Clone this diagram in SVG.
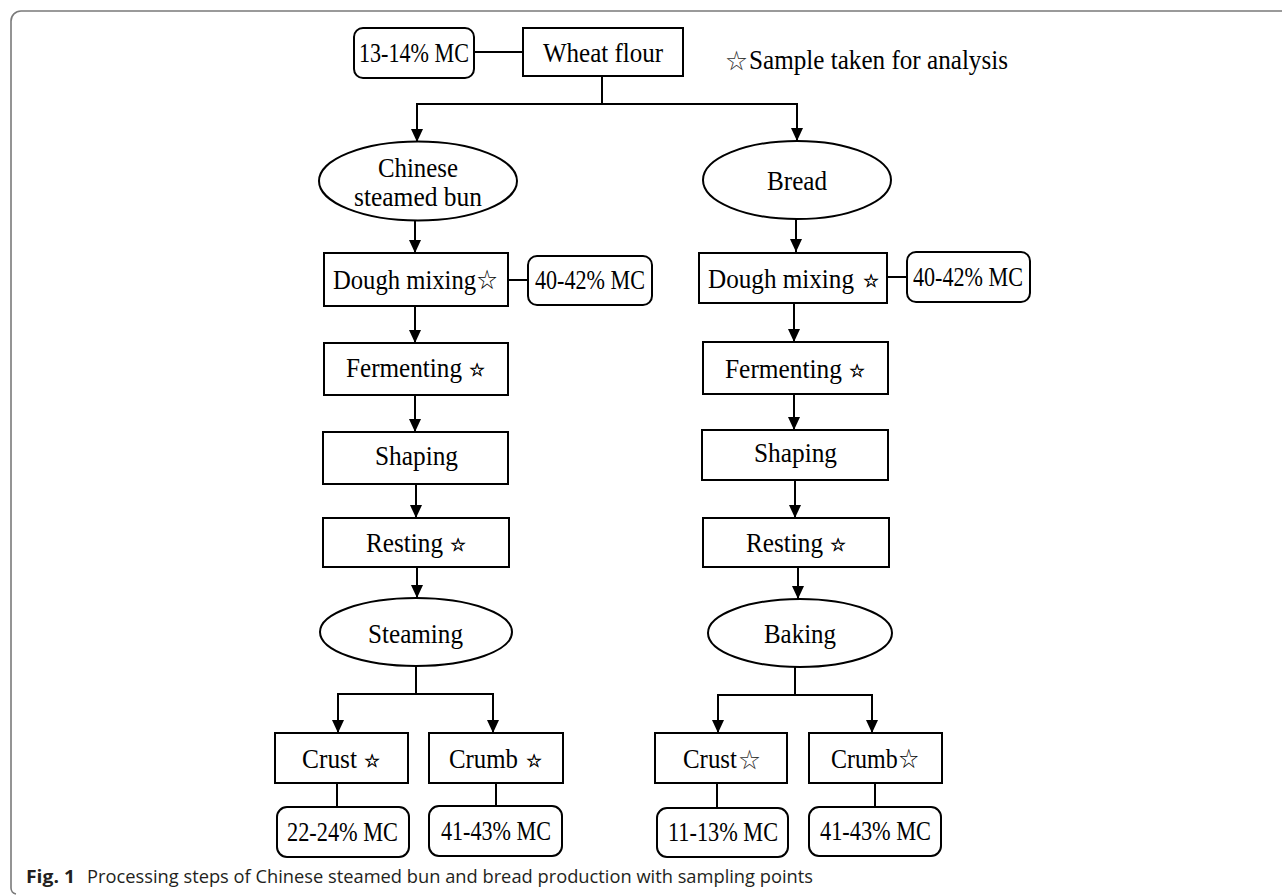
<svg xmlns="http://www.w3.org/2000/svg" width="1282" height="896" viewBox="0 0 1282 896">
<defs>
<marker id="ah" markerUnits="userSpaceOnUse" markerWidth="12" markerHeight="13" refX="6" refY="13" orient="0" viewBox="0 0 12 13">
<path d="M0,0 L12,0 L6,13 Z" fill="#000"/>
</marker>
<style>
.box{fill:#fff;stroke:#000;stroke-width:2}
.t{font-family:"Liberation Serif","Times New Roman",serif;font-size:27px;fill:#000;text-anchor:start}
.s{font-family:"DejaVu Sans",sans-serif;font-size:18px;fill:#000;stroke:#000;stroke-width:0.5}
.g{font-family:"Noto Sans CJK SC","DejaVu Sans",sans-serif;font-size:21px;fill:#333}
.c{fill:none;stroke:#000;stroke-width:2}
.a{fill:none;stroke:#000;stroke-width:2;marker-end:url(#ah)}
.cap{font-family:"Open Sans","Noto Sans",sans-serif;font-size:18px;fill:#231f20}
</style>
</defs>
<rect width="1282" height="896" fill="#fff"/>
<path d="M1282,11 H21 A10,10 0 0 0 11,21 V888 A6,6 0 0 0 16,894" fill="none" stroke="#7a7a7a" stroke-width="1.6"/>

<g id="connectors">
<path class="c" d="M474,52 H523"/>
<path class="a" d="M602,76 V104 H417 V142"/>
<path class="a" d="M602,104 H797 V141"/>
<path class="a" d="M415,220 V253"/>
<path class="c" d="M508,280 H528"/>
<path class="a" d="M415,306 V343"/>
<path class="a" d="M415,395 V432"/>
<path class="a" d="M416,484 V518"/>
<path class="a" d="M417,567 V598"/>
<path class="a" d="M416,667 V694 H338 V733"/>
<path class="a" d="M416,694 H493 V733"/>
<path class="c" d="M337,783 V807"/>
<path class="c" d="M496,783 V806"/>
<path class="a" d="M796,219 V252"/>
<path class="c" d="M887,277 H907"/>
<path class="a" d="M794,303 V342"/>
<path class="a" d="M794,394 V430"/>
<path class="a" d="M795,480 V518"/>
<path class="a" d="M798,567 V599"/>
<path class="a" d="M795,667 V695 H718 V733"/>
<path class="a" d="M795,695 H872 V733"/>
<path class="c" d="M717,783 V808"/>
<path class="c" d="M875,783 V807"/>
</g>

<g id="mc-flour"><rect class="box" x="354" y="28" width="120" height="50" rx="9"/><text class="t" x="359" y="62" textLength="110" lengthAdjust="spacingAndGlyphs">13-14% MC</text></g>
<g id="wheat-flour"><rect class="box" x="523" y="28" width="160" height="48"/><text class="t" x="543" y="62" textLength="120" lengthAdjust="spacingAndGlyphs">Wheat flour</text></g>
<g id="legend"><text class="g" x="726" y="68" font-size="20">☆</text><text class="t" x="749" y="69" textLength="259" lengthAdjust="spacingAndGlyphs">Sample taken for analysis</text></g>

<g id="csb"><ellipse class="box" cx="418" cy="181" rx="99" ry="39.5"/><text class="t" x="378" y="177" textLength="80" lengthAdjust="spacingAndGlyphs">Chinese</text><text class="t" x="354" y="206" textLength="128" lengthAdjust="spacingAndGlyphs">steamed bun</text></g>
<g id="bread"><ellipse class="box" cx="797" cy="180" rx="94" ry="39"/><text class="t" x="767" y="190" textLength="60" lengthAdjust="spacingAndGlyphs">Bread</text></g>

<g id="l-dough"><rect class="box" x="324" y="253" width="184" height="53"/><text class="t" x="333" y="289" font-size="25" textLength="165" lengthAdjust="spacingAndGlyphs">Dough mixing☆</text></g>
<g id="l-mc1"><rect class="box" x="528" y="256" width="124" height="49" rx="9"/><text class="t" x="535" y="289" textLength="110" lengthAdjust="spacingAndGlyphs">40-42% MC</text></g>
<g id="l-ferm"><rect class="box" x="324" y="343" width="184" height="52"/><text class="t" x="346" y="377" textLength="116" lengthAdjust="spacingAndGlyphs">Fermenting</text><text class="s" x="469" y="376">☆</text></g>
<g id="l-shape"><rect class="box" x="323" y="432" width="185" height="52"/><text class="t" x="375" y="465" textLength="83" lengthAdjust="spacingAndGlyphs">Shaping</text></g>
<g id="l-rest"><rect class="box" x="323" y="518" width="186" height="49"/><text class="t" x="366" y="552" textLength="77" lengthAdjust="spacingAndGlyphs">Resting</text><text class="s" x="450" y="551">☆</text></g>
<g id="steaming"><ellipse class="box" cx="416" cy="632" rx="96" ry="34"/><text class="t" x="368" y="643" textLength="95" lengthAdjust="spacingAndGlyphs">Steaming</text></g>
<g id="l-crust"><rect class="box" x="275" y="733" width="133" height="50"/><text class="t" x="302" y="768" textLength="55" lengthAdjust="spacingAndGlyphs">Crust</text><text class="s" x="364" y="767">☆</text></g>
<g id="l-crumb"><rect class="box" x="429" y="733" width="134" height="50"/><text class="t" x="449" y="768" textLength="69" lengthAdjust="spacingAndGlyphs">Crumb</text><text class="s" x="526" y="767">☆</text></g>
<g id="l-mc2"><rect class="box" x="277" y="807" width="132" height="50" rx="10"/><text class="t" x="287" y="841" textLength="111" lengthAdjust="spacingAndGlyphs">22-24% MC</text></g>
<g id="l-mc3"><rect class="box" x="429" y="806" width="133" height="50" rx="10"/><text class="t" x="441" y="840" textLength="110" lengthAdjust="spacingAndGlyphs">41-43% MC</text></g>

<g id="r-dough"><rect class="box" x="699" y="253" width="188" height="50"/><text class="t" x="708" y="288" textLength="146" lengthAdjust="spacingAndGlyphs">Dough mixing</text><text class="s" x="863" y="287">☆</text></g>
<g id="r-mc1"><rect class="box" x="907" y="252" width="123" height="50" rx="9"/><text class="t" x="913" y="286" textLength="110" lengthAdjust="spacingAndGlyphs">40-42% MC</text></g>
<g id="r-ferm"><rect class="box" x="703" y="342" width="185" height="52"/><text class="t" x="725" y="378" textLength="117" lengthAdjust="spacingAndGlyphs">Fermenting</text><text class="s" x="849" y="377">☆</text></g>
<g id="r-shape"><rect class="box" x="702" y="430" width="186" height="50"/><text class="t" x="754" y="462" textLength="83" lengthAdjust="spacingAndGlyphs">Shaping</text></g>
<g id="r-rest"><rect class="box" x="703" y="518" width="186" height="49"/><text class="t" x="746" y="552" textLength="77" lengthAdjust="spacingAndGlyphs">Resting</text><text class="s" x="830" y="551">☆</text></g>
<g id="baking"><ellipse class="box" cx="800" cy="633" rx="92" ry="34"/><text class="t" x="764" y="643" textLength="72" lengthAdjust="spacingAndGlyphs">Baking</text></g>
<g id="r-crust"><rect class="box" x="655" y="733" width="132" height="50"/><text class="t" x="683" y="768" textLength="54" lengthAdjust="spacingAndGlyphs">Crust</text><text class="g" x="739" y="767">☆</text></g>
<g id="r-crumb"><rect class="box" x="809" y="733" width="133" height="50"/><text class="t" x="831" y="768" font-size="26" textLength="88" lengthAdjust="spacingAndGlyphs">Crumb☆</text></g>
<g id="r-mc2"><rect class="box" x="657" y="808" width="131" height="49" rx="10"/><text class="t" x="668" y="841" textLength="110" lengthAdjust="spacingAndGlyphs">11-13% MC</text></g>
<g id="r-mc3"><rect class="box" x="809" y="807" width="132" height="49" rx="10"/><text class="t" x="820" y="840" textLength="111" lengthAdjust="spacingAndGlyphs">41-43% MC</text></g>

<g id="caption"><text class="cap" x="26" y="883" font-weight="bold" textLength="49" lengthAdjust="spacingAndGlyphs">Fig. 1</text><text class="cap" x="87" y="883" textLength="726" lengthAdjust="spacingAndGlyphs">Processing steps of Chinese steamed bun and bread production with sampling points</text></g>
</svg>
